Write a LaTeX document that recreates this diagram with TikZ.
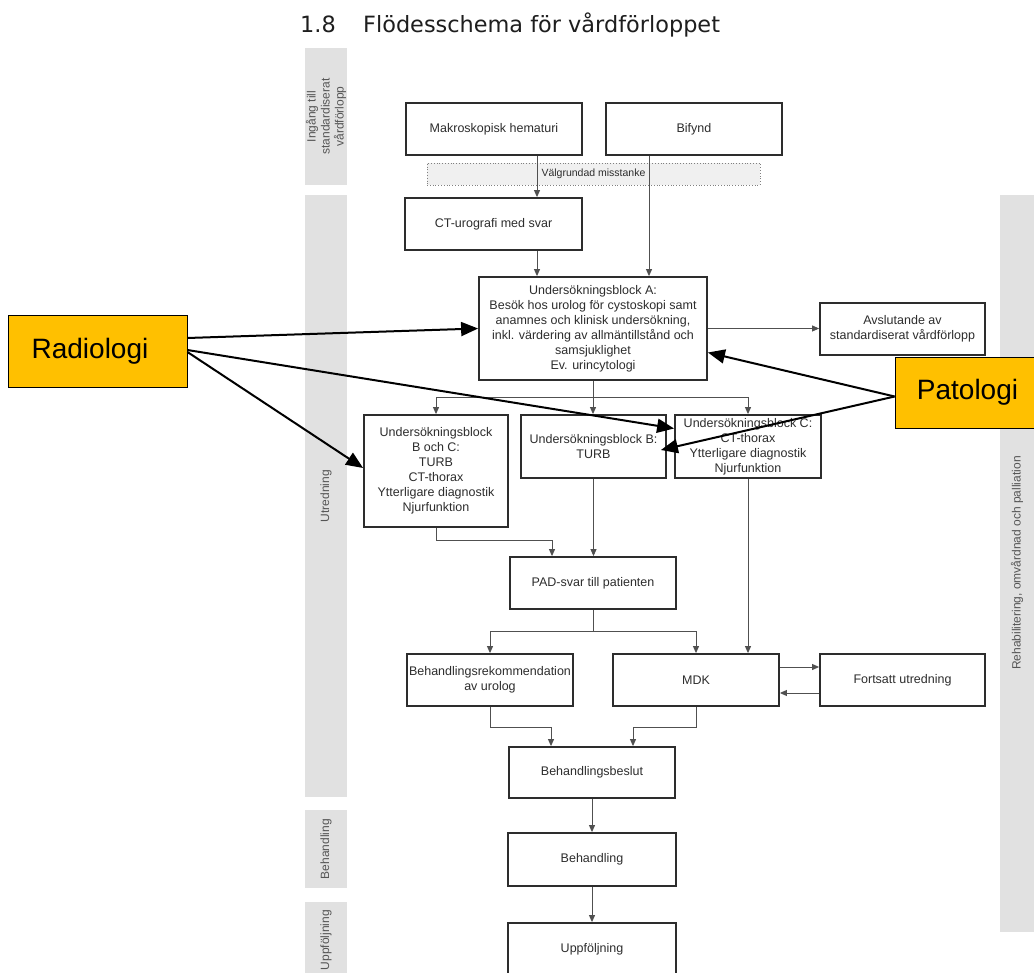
\documentclass[tikz,border=0pt]{standalone}
\usepackage{fontspec}
\setmainfont{Liberation Sans}
\newfontfamily\titlefont{DejaVu Sans}
\usetikzlibrary{arrows.meta,calc}
\definecolor{sidegray}{RGB}{225,225,225}
\definecolor{boxline}{RGB}{45,45,45}
\definecolor{txtgray}{RGB}{45,45,45}
\definecolor{labgray}{RGB}{85,85,85}
\definecolor{conncol}{RGB}{80,80,80}
\definecolor{callout}{RGB}{255,192,0}
\definecolor{bandfill}{RGB}{240,240,240}
\definecolor{titlecol}{RGB}{30,30,30}
\begin{document}
\begin{tikzpicture}[x=1pt,y=-1pt,
  flowbox/.style={draw=boxline, line width=1.8pt, fill=white, inner sep=0pt, align=center, text=txtgray, font=\fontsize{12.5}{15}\selectfont},
  sidebar/.style={fill=sidegray, draw=none},
  sidelabel/.style={rotate=90, text=labgray, align=center, font=\fontsize{12}{14}\selectfont},
  bandbox/.style={draw=gray, dotted, line width=0.8pt, fill=bandfill, inner sep=0pt, text=txtgray, font=\fontsize{10.5}{12}\selectfont},
  conn/.style={draw=conncol, line width=0.9pt, -{Triangle[length=7pt,width=6pt]}},
  callbox/.style={draw=black, line width=0.8pt, fill=callout, inner sep=0pt, text=black, font=\fontsize{28}{30}\selectfont},
  callarrow/.style={draw=black, line width=2pt, -{Triangle[length=17pt,width=14pt]}},
  titletext/.style={anchor=base west, inner sep=0pt, text=titlecol, font=\titlefont\fontsize{22.4}{26}\selectfont}
]
\useasboundingbox (0,0) rectangle (1034,973);
\clip (0,0) rectangle (1034,973);
\fill[white] (0,0) rectangle (1034,973);

% title
\node[titletext] (num) at (300,33) {1.8};
\node[titletext] (title) at (363,33) {Flödesschema för vårdförloppet};

% side bars
\fill[sidegray] (305,48) rectangle (347,185);
\fill[sidegray] (305,195) rectangle (347,797);
\fill[sidegray] (305,810) rectangle (347,888);
\fill[sidegray] (305,902) rectangle (347,990);
\fill[sidegray] (1000,195) rectangle (1040,932);
\node[sidelabel] (lab1) at (326,116.5) {Ingång till\\standardiserat\\vårdförlopp};
\node[sidelabel] (lab2) at (326,496) {Utredning};
\node[sidelabel] (lab3) at (326,849) {Behandling};
\node[sidelabel] (lab4) at (326,940) {Uppföljning};
\node[sidelabel] (lab5) at (1017,563) {Rehabilitering, omvårdnad och palliation};

% band
\node[bandbox, minimum width=333pt, minimum height=22pt] (band) at (593.5,174) {Välgrundad misstanke};

% boxes
\node[flowbox, minimum width=176pt, minimum height=52pt] (makro) at (494,129) {Makroskopisk hematuri};
\node[flowbox, minimum width=176pt, minimum height=52pt] (bifynd) at (694,129) {Bifynd};
\node[flowbox, minimum width=177pt, minimum height=52pt] (ct) at (493.5,224) {CT-urografi med svar};
\node[flowbox, minimum width=228pt, minimum height=103pt] (a) at (593,328.5) {Undersökningsblock A:\\Besök hos urolog för cystoskopi samt\\anamnes och klinisk undersökning,\\inkl. värdering av allmäntillstånd och\\samsjuklighet\\Ev. urincytologi};
\node[flowbox, minimum width=165pt, minimum height=52pt] (avs) at (902.5,329) {Avslutande av\\standardiserat vårdförlopp};
\node[flowbox, minimum width=144pt, minimum height=112pt] (bc) at (436,471) {Undersökningsblock\\B och C:\\TURB\\CT-thorax\\Ytterligare diagnostik\\Njurfunktion};
\node[flowbox, minimum width=145pt, minimum height=63pt] (b) at (593.5,446.5) {Undersökningsblock B:\\TURB};
\node[flowbox, minimum width=146pt, minimum height=63pt] (c) at (748,446.5) {Undersökningsblock C:\\CT-thorax\\Ytterligare diagnostik\\Njurfunktion};
\node[flowbox, minimum width=166pt, minimum height=52pt] (pad) at (593,583) {PAD-svar till patienten};
\node[flowbox, minimum width=166pt, minimum height=52pt] (rek) at (490,680) {Behandlingsrekommendation\\av urolog};
\node[flowbox, minimum width=166pt, minimum height=52pt] (mdk) at (696,680) {MDK};
\node[flowbox, minimum width=165pt, minimum height=52pt] (fort) at (902.5,680) {Fortsatt utredning};
\node[flowbox, minimum width=166pt, minimum height=51pt] (beslut) at (592,772.5) {Behandlingsbeslut};
\node[flowbox, minimum width=168pt, minimum height=53pt] (beh) at (592,859.5) {Behandling};
\node[flowbox, minimum width=168pt, minimum height=52pt] (uppf) at (592,949) {Uppföljning};

% connectors
\draw[conn] ([xshift=43pt]makro.south) -- ([xshift=43pt]makro.south |- ct.north);
\draw[conn] ([xshift=-45pt]bifynd.south) -- ([xshift=-45pt]bifynd.south |- a.north);
\draw[conn] ([xshift=43.5pt]ct.south) -- ([xshift=43.5pt]ct.south |- a.north);
\draw[conn] (a.east) -- (a.east -| avs.west);
\draw[conn] (a.south) -- ++(0,17) -| (bc.north);
\draw[conn] (a.south) -- (a.south |- b.north);
\draw[conn] (a.south) -- ++(0,17) -| (c.north);
\draw[conn] (bc.south) -- ++(0,13) -| ([xshift=-41pt]pad.north);
\draw[conn] (b.south) -- (b.south |- pad.north);
\draw[conn] (c.south) -- (c.south |- mdk.north);
\draw[conn] (pad.south) -- ++(0,22) -| (rek.north);
\draw[conn] (pad.south) -- ++(0,22) -| (mdk.north);
\draw[conn] ([yshift=13pt]mdk.east) -- ([yshift=13pt]mdk.east -| fort.west);
\draw[conn] ([yshift=-13pt]fort.west) -- ([yshift=-13pt]fort.west -| mdk.east);
\draw[conn] (rek.south) -- ++(0,21) -| ([xshift=-41pt]beslut.north);
\draw[conn] (mdk.south) -- ++(0,21) -| ([xshift=41pt]beslut.north);
\draw[conn] (beslut.south) -- (beslut.south |- beh.north);
\draw[conn] (beh.south) -- (beh.south |- uppf.north);

% callouts
\node[callbox, minimum width=179pt, minimum height=72pt] (rad) at (97.5,351) {\hspace*{-15pt}Radiologi};
\node[callbox, minimum width=145pt, minimum height=71pt] (pat) at (967.5,392.5) {Patologi};
\draw[callarrow] ([yshift=13pt]rad.east) -- (a.west);
\draw[callarrow] ([yshift=1pt]rad.east) -- ([yshift=18pt]c.west);
\draw[callarrow] ([yshift=-1pt]rad.east) -- ([yshift=3pt]bc.west);
\draw[callarrow] ([yshift=-4pt]pat.west) -- ([yshift=-24pt]a.east);
\draw[callarrow] ([yshift=-4pt]pat.west) -- ([xshift=-6pt,yshift=-3.5pt]b.east);
\end{tikzpicture}
\end{document}
